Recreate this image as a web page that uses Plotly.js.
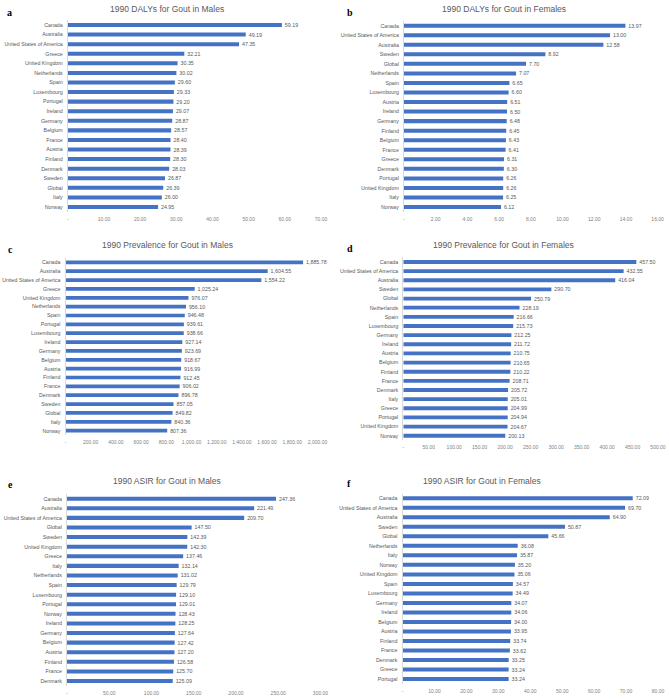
<!DOCTYPE html>
<html>
<head>
<meta charset="utf-8">
<script src="https://cdn.plot.ly/plotly-3.0.1.min.js"></script>
<style>html,body{margin:0;padding:0;background:#fff}#chart{width:669px;height:699px}</style>
</head>
<body>
<div id="chart"></div>
<script>
// ---- Data ----
const titleA = "1990 DALYs for Gout in Males";
const catsA = ["Canada","Australia","United States of America","Greece","United Kingdom","Netherlands","Spain","Luxembourg","Portugal","Ireland","Germany","Belgium","France","Austria","Finland","Denmark","Sweden","Global","Italy","Norway"];
const valsA = [59.19,49.19,47.35,32.21,30.35,30.02,29.60,29.33,29.20,29.07,28.87,28.57,28.40,28.39,28.30,28.03,26.87,26.39,26.00,24.95];
const tickValsA = [0,10,20,30,40,50,60,70];
const tickTextA = ["-","10.00","20.00","30.00","40.00","50.00","60.00","70.00"];

const titleB = "1990 DALYs for Gout in Females";
const catsB = ["Canada","United States of America","Australia","Sweden","Global","Netherlands","Spain","Luxembourg","Austria","Ireland","Germany","Finland","Belgium","France","Greece","Denmark","Portugal","United Kingdom","Italy","Norway"];
const valsB = [13.97,13.00,12.58,8.92,7.70,7.07,6.65,6.60,6.51,6.50,6.48,6.45,6.43,6.41,6.31,6.30,6.26,6.26,6.25,6.12];
const tickValsB = [0,2,4,6,8,10,12,14,16];
const tickTextB = ["-","2.00","4.00","6.00","8.00","10.00","12.00","14.00","16.00"];

const titleC = "1990 Prevalence for Gout in Males";
const catsC = ["Canada","Australia","United States of America","Greece","United Kingdom","Netherlands","Spain","Portugal","Luxembourg","Ireland","Germany","Belgium","Austria","Finland","France","Denmark","Sweden","Global","Italy","Norway"];
const valsC = [1885.78,1604.55,1554.22,1025.24,976.07,956.10,946.48,939.61,938.66,927.14,923.69,918.67,916.99,912.45,906.02,896.78,857.05,849.82,840.36,807.36];
const tickValsC = [0,200,400,600,800,1000,1200,1400,1600,1800,2000];
const tickTextC = ["-","200.00","400.00","600.00","800.00","1,000.00","1,200.00","1,400.00","1,600.00","1,800.00","2,000.00"];

const titleD = "1990 Prevalence for Gout in Females";
const catsD = ["Canada","United States of America","Australia","Sweden","Global","Netherlands","Spain","Luxembourg","Germany","Ireland","Austria","Belgium","Finland","France","Denmark","Italy","Greece","Portugal","United Kingdom","Norway"];
const valsD = [457.50,432.55,416.04,290.70,250.79,228.19,216.66,215.73,212.25,211.72,210.75,210.65,210.22,208.71,205.72,205.01,204.99,204.94,204.67,200.13];
const tickValsD = [0,50,100,150,200,250,300,350,400,450,500];
const tickTextD = ["-","50.00","100.00","150.00","200.00","250.00","300.00","350.00","400.00","450.00","500.00"];

const titleE = "1990 ASIR for Gout in Males";
const catsE = ["Canada","Australia","United States of America","Global","Sweden","United Kingdom","Greece","Italy","Netherlands","Spain","Luxembourg","Portugal","Norway","Ireland","Germany","Belgium","Austria","Finland","France","Denmark"];
const valsE = [247.36,221.49,209.70,147.50,142.39,142.30,137.46,132.14,131.02,129.79,129.10,129.01,128.43,128.25,127.64,127.42,127.20,126.58,125.70,125.09];
const tickValsE = [0,50,100,150,200,250,300];
const tickTextE = ["-","50.00","100.00","150.00","200.00","250.00","300.00"];

const titleF = "1990 ASIR for Gout in Females";
const catsF = ["Canada","United States of America","Australia","Sweden","Global","Netherlands","Italy","Norway","United Kingdom","Spain","Luxembourg","Germany","Ireland","Belgium","Austria","Finland","France","Denmark","Greece","Portugal"];
const valsF = [72.09,69.70,64.90,50.87,45.66,36.08,35.87,35.20,35.06,34.57,34.49,34.07,34.06,34.00,33.95,33.74,33.62,33.25,33.24,33.24];
const tickValsF = [0,10,20,30,40,50,60,70,80];
const tickTextF = ["-","10.00","20.00","30.00","40.00","50.00","60.00","70.00","80.00"];

const panelLetters = ["a","b","c","d","e","f"];

// ---- Layout geometry (pixels) ----
const W = 669, H = 699;
const panels = [
  {letter:panelLetters[0], title:titleA, cats:catsA, vals:valsA, tv:tickValsA, tt:tickTextA, x0:67.8, x1:321, y0:20.2, y1:211.8, lx:5, ly:12, tx:167, ty:9},
  {letter:panelLetters[1], title:titleB, cats:catsB, vals:valsB, tv:tickValsB, tt:tickTextB, x0:404, x1:657.6, y0:20.9, y1:211.8, lx:345, ly:12, tx:504, ty:9},
  {letter:panelLetters[2], title:titleC, cats:catsC, vals:valsC, tv:tickValsC, tt:tickTextC, x0:65.5, x1:317.5, y0:257.9, y1:435.1, lx:6, ly:249, tx:167, ty:245},
  {letter:panelLetters[3], title:titleD, cats:catsD, vals:valsD, tv:tickValsD, tt:tickTextD, x0:403.3, x1:658, y0:257.4, y1:440.3, lx:345, ly:248, tx:504, ty:245},
  {letter:panelLetters[4], title:titleE, cats:catsE, vals:valsE, tv:tickValsE, tt:tickTextE, x0:67, x1:320.5, y0:493.9, y1:685.8, lx:6, ly:484, tx:167, ty:481},
  {letter:panelLetters[5], title:titleF, cats:catsF, vals:valsF, tv:tickValsF, tt:tickTextF, x0:402.5, x1:658, y0:493.5, y1:683.8, lx:345, ly:483, tx:482, ty:481}
];

const traces = [];
const layout = {
  width: W, height: H,
  margin: {l:0, r:0, t:0, b:0},
  paper_bgcolor: "#fff", plot_bgcolor: "#fff",
  showlegend: false,
  font: {family: "Liberation Sans, Arial, sans-serif", color: "#595959", size: 5},
  annotations: []
};

panels.forEach((p, i) => {
  const n = i + 1;
  const xa = n === 1 ? "x" : "x" + n;
  const ya = n === 1 ? "y" : "y" + n;
  traces.push({
    type: "bar", orientation: "h",
    x: p.vals, y: p.cats,
    xaxis: xa, yaxis: ya,
    width: 0.42,
    marker: {color: "#4472C4"},
    texttemplate: "\u00a0\u00a0%{x:,.2f}",
    textposition: "outside",
    constraintext: "none",
    cliponaxis: false,
    outsidetextfont: {size: 5.3, color: "#595959", family: "Liberation Sans, Arial, sans-serif"},
    hoverinfo: "none"
  });
  const maxT = p.tv[p.tv.length - 1];
  layout["xaxis" + (n === 1 ? "" : n)] = {
    domain: [p.x0 / W, p.x1 / W],
    anchor: ya,
    range: [0, maxT],
    tickvals: p.tv, ticktext: p.tt,
    showgrid: false, zeroline: false, showline: false,
    ticks: "", tickfont: {size: 5, color: "#7f7f7f"},
    ticklabelstandoff: 3,
    fixedrange: true
  };
  layout["yaxis" + (n === 1 ? "" : n)] = {
    domain: [1 - p.y1 / H, 1 - p.y0 / H],
    anchor: xa,
    autorange: "reversed",
    type: "category",
    showgrid: false, zeroline: false,
    showline: true, linecolor: "#d9d9d9", linewidth: 1,
    ticks: "", tickfont: {size: 5.3, color: "#595959"},
    ticklabelstandoff: 3,
    fixedrange: true
  };
  layout.annotations.push({
    text: p.title, xref: "paper", yref: "paper",
    x: p.tx / W, y: 1 - p.ty / H, xanchor: "center", yanchor: "middle",
    showarrow: false, font: {size: 8.5, color: "#595959", family: "Liberation Sans, Arial, sans-serif"}
  });
  layout.annotations.push({
    text: "<b>" + p.letter + "</b>", xref: "paper", yref: "paper",
    x: p.lx / W, y: 1 - p.ly / H, xanchor: "left", yanchor: "middle",
    showarrow: false, font: {size: 10, color: "#000", family: "Liberation Serif, Times New Roman, serif"}
  });
});

Plotly.newPlot("chart", traces, layout, {displayModeBar: false, staticPlot: true});
</script>
</body>
</html>
